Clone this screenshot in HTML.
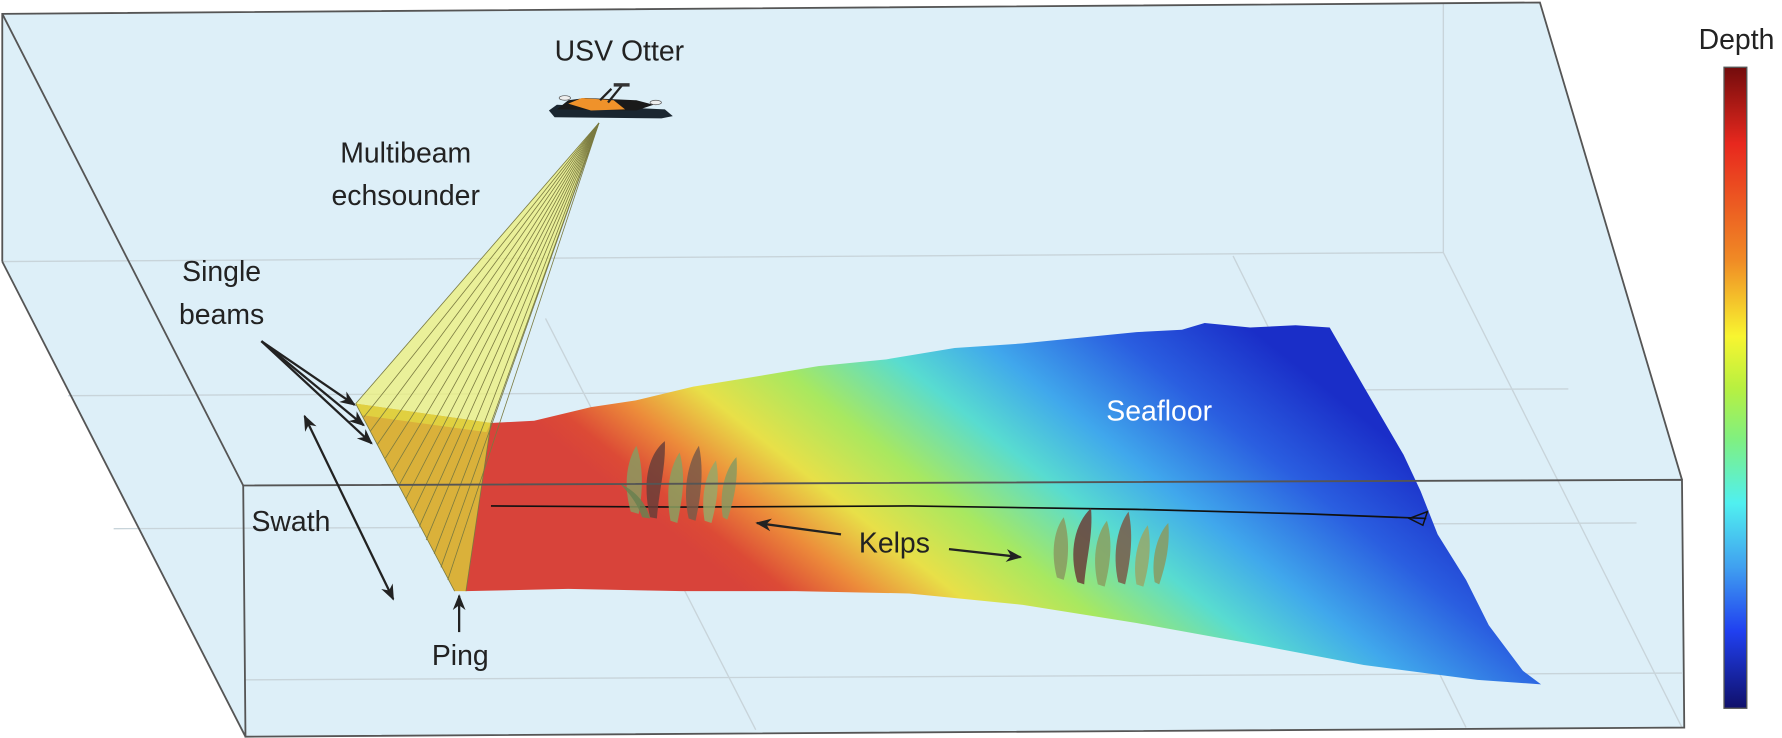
<!DOCTYPE html>
<html><head><meta charset="utf-8"><style>html,body{margin:0;padding:0;background:#fff;}svg{display:block}</style></head>
<body>
<svg width="1782" height="738" viewBox="0 0 1568 649" xmlns="http://www.w3.org/2000/svg" font-family="Liberation Sans, Arial, sans-serif">
<defs>
<linearGradient id="sea" gradientUnits="userSpaceOnUse" x1="0" y1="0" x2="285" y2="-359">
<stop offset="0" stop-color="#d8433a"/>
<stop offset="0.05" stop-color="#dc4a36"/>
<stop offset="0.14" stop-color="#ec8a3a"/>
<stop offset="0.25" stop-color="#e8e048"/>
<stop offset="0.38" stop-color="#a8e860"/>
<stop offset="0.53" stop-color="#58dcd0"/>
<stop offset="0.66" stop-color="#40a8ec"/>
<stop offset="0.83" stop-color="#2a5ee0"/>
<stop offset="1" stop-color="#1a2ec8"/>
</linearGradient>
<linearGradient id="bar" x1="0" y1="0" x2="0" y2="1">
<stop offset="0" stop-color="#730c0c"/>
<stop offset="0.12" stop-color="#e8281e"/>
<stop offset="0.3" stop-color="#f08a25"/>
<stop offset="0.42" stop-color="#f8f530"/>
<stop offset="0.5" stop-color="#b8f040"/>
<stop offset="0.58" stop-color="#80f080"/>
<stop offset="0.68" stop-color="#50f0f0"/>
<stop offset="0.78" stop-color="#40a0f0"/>
<stop offset="0.88" stop-color="#2040f0"/>
<stop offset="1" stop-color="#10106a"/>
</linearGradient>
<marker id="ah" viewBox="0 0 10 10" refX="9" refY="5" markerWidth="7" markerHeight="7" orient="auto-start-reverse"><path d="M0,1 L10,5 L0,9 L3,5 Z" fill="#222"/></marker>
</defs>
<polygon points="2,12 1355,2 1480,422 1482,640 216,648 2,230" fill="#ddeff8"/>
<g stroke="#c8d4da" stroke-width="1.2" fill="none">
<line x1="2" y1="230" x2="1270" y2="222"/>
<line x1="1270" y1="2" x2="1270" y2="222"/>
<line x1="60" y1="348" x2="1380" y2="342"/>
<line x1="100" y1="465" x2="1440" y2="460"/>
<line x1="216" y1="598" x2="1480" y2="592"/>
<line x1="480" y1="280" x2="665" y2="642"/>
<line x1="1085" y1="225" x2="1290" y2="640"/>
<line x1="1270" y1="222" x2="1480" y2="640"/>
</g>
<path d="M432,372 L470,370 L520,358 L560,352 L610,340 L660,332 L720,322 L780,316 L840,306 L900,302 L960,296 L1000,292 L1040,290 L1060,284 L1100,288 L1140,286 L1170,288 L1200,340 L1235,400 L1250,432 L1265,470 L1290,510 L1310,550 L1340,590 L1356,602 L1300,598 L1200,585 L1100,566 L1000,548 L900,532 L800,522 L700,520 L600,520 L500,518 L410,520 Z" fill="url(#sea)"/>
<polygon points="527,108 313,355 400,520 410,520 432,372" fill="#eef07a" fill-opacity="0.75"/>
<polygon points="313,355 432,372 410,520 400,520" fill="#d8aa30" fill-opacity="0.9"/>
<polygon points="313,355 432,372 428,380 318,365" fill="#e0d040"/>
<g stroke="#7a7a40" stroke-width="0.7" fill="none">
<line x1="527" y1="108" x2="313" y2="355"/><line x1="527" y1="108" x2="320" y2="367"/><line x1="527" y1="108" x2="326" y2="379"/><line x1="527" y1="108" x2="332" y2="391"/><line x1="527" y1="108" x2="339" y2="403"/><line x1="527" y1="108" x2="345" y2="415"/><line x1="527" y1="108" x2="351" y2="427"/><line x1="527" y1="108" x2="357" y2="439"/><line x1="527" y1="108" x2="363" y2="451"/><line x1="527" y1="108" x2="369" y2="463"/><line x1="527" y1="108" x2="375" y2="475"/><line x1="527" y1="108" x2="382" y2="487"/><line x1="527" y1="108" x2="388" y2="499"/><line x1="527" y1="108" x2="394" y2="510"/><line x1="527" y1="108" x2="432" y2="372"/>
<line x1="313" y1="355" x2="400" y2="520"/><line x1="432" y1="372" x2="410" y2="520"/>
</g>
<g>
<polygon points="483,97 490,92 585,96 592,102 582,104 488,103" fill="#1a2630"/>
<polygon points="490,96 500,88 515,86 560,88 575,92 560,97" fill="#1a1a1a"/>
<polygon points="500,91 512,86 540,88 550,96 520,97" fill="#f0922a"/>
<line x1="535" y1="90" x2="548" y2="74" stroke="#222" stroke-width="2"/>
<line x1="528" y1="88" x2="538" y2="78" stroke="#222" stroke-width="2"/>
<rect x="540" y="73" width="14" height="3" fill="#333"/>
<ellipse cx="497" cy="86" rx="5" ry="2" fill="#eee" stroke="#555" stroke-width="0.6"/>
<ellipse cx="577" cy="90" rx="5" ry="2" fill="#eee" stroke="#555" stroke-width="0.6"/>
</g>
<polyline points="432,445 600,446 800,445 1000,448 1150,452 1255,456" fill="none" stroke="#111" stroke-width="1.5"/>
<polygon points="1240,456 1256,450 1252,462" fill="none" stroke="#111" stroke-width="1.3"/>
<g fill-opacity="0.85">
<path d="M555,450 C548,425 552,405 560,392 C566,410 566,430 562,452 Z" fill="#8a9a60"/>
<path d="M572,455 C565,425 570,400 585,388 C586,410 580,430 578,456 Z" fill="#6a3e38"/>
<path d="M590,458 C585,430 590,410 598,398 C604,420 600,440 596,460 Z" fill="#8aa060"/>
<path d="M606,456 C600,430 606,405 615,392 C620,415 616,440 612,458 Z" fill="#7a5a48"/>
<path d="M620,458 C616,435 622,415 630,405 C634,425 630,445 626,460 Z" fill="#98a868"/>
<path d="M636,455 C632,430 640,410 648,402 C650,425 644,445 640,457 Z" fill="#8a9a60"/>
<path d="M565,455 C560,440 550,430 545,425 C556,430 568,440 572,456 Z" fill="#6a8050"/>
</g>
<g fill-opacity="0.85">
<path d="M930,508 C924,485 928,465 936,455 C942,475 940,495 936,510 Z" fill="#8a9a60"/>
<path d="M948,512 C940,485 946,460 960,447 C962,470 956,490 954,514 Z" fill="#6a3e38"/>
<path d="M966,514 C960,488 966,468 974,458 C980,478 976,500 972,516 Z" fill="#8aa060"/>
<path d="M984,512 C978,486 984,462 993,450 C998,472 994,496 990,514 Z" fill="#7a5a48"/>
<path d="M1000,514 C996,492 1002,472 1010,462 C1014,482 1010,502 1006,516 Z" fill="#98a868"/>
<path d="M1016,512 C1012,488 1020,468 1028,460 C1030,482 1024,502 1020,514 Z" fill="#8a9a60"/>
</g>
<g stroke="#555" stroke-width="1.6" fill="none">
<polyline points="2,230 2,12 1355,2 1480,422"/>
<line x1="2" y1="12" x2="214" y2="427"/>
<line x1="2" y1="230" x2="216" y2="648"/>
<polygon points="214,427 1480,422 1482,640 216,648"/>
</g>
<g stroke="#222" stroke-width="2" fill="none">
<line x1="230" y1="300" x2="312" y2="356" marker-end="url(#ah)"/>
<line x1="230" y1="300" x2="320" y2="374" marker-end="url(#ah)"/>
<line x1="230" y1="300" x2="327" y2="390" marker-end="url(#ah)"/>
<line x1="268" y1="366" x2="346" y2="527" marker-start="url(#ah)" marker-end="url(#ah)"/>
<line x1="404" y1="556" x2="404" y2="524" marker-end="url(#ah)"/>
<line x1="740" y1="470" x2="666" y2="460" marker-end="url(#ah)"/>
<line x1="835" y1="483" x2="898" y2="490" marker-end="url(#ah)"/>
</g>
<g fill="#222" font-size="25" text-anchor="middle">
<text x="545" y="53">USV Otter</text>
<text x="357" y="143">Multibeam</text>
<text x="357" y="180">echsounder</text>
<text x="195" y="247">Single</text>
<text x="195" y="285">beams</text>
<text x="256" y="467">Swath</text>
<text x="405" y="585">Ping</text>
<text x="787" y="486">Kelps</text>
<text x="1528" y="43">Depth</text>
<text x="1020" y="370" fill="#fff">Seafloor</text>
</g>
<rect x="1517" y="59" width="20" height="564" fill="url(#bar)" stroke="#555" stroke-width="1.2"/>
</svg>
</body></html>
